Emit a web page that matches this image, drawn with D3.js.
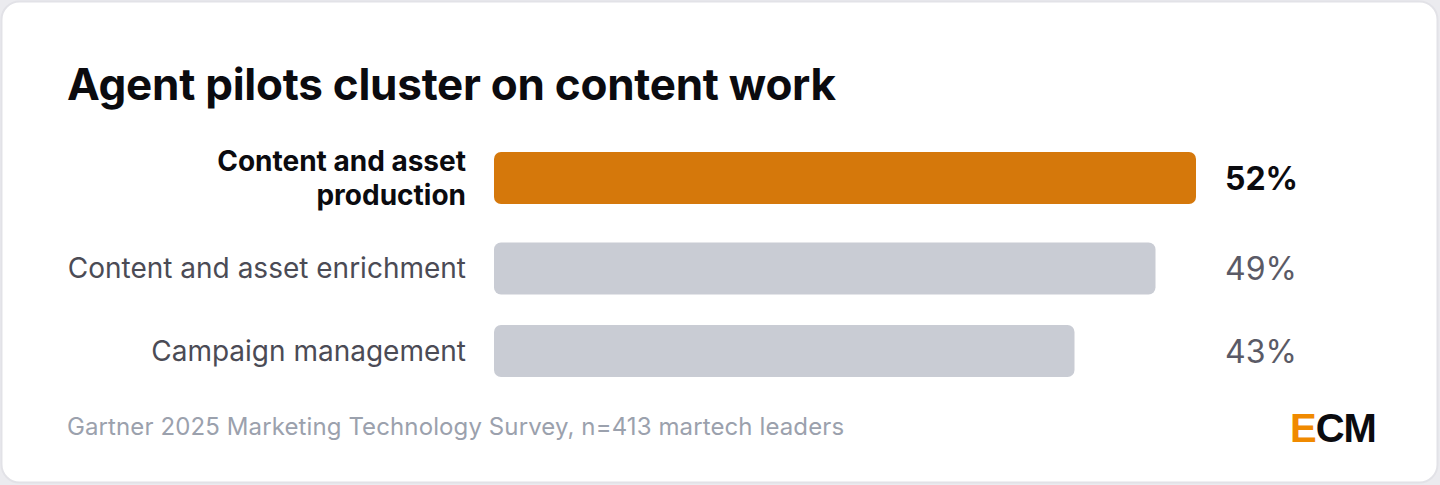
<!DOCTYPE html>
<html>
<head>
<meta charset="utf-8">
<script src="https://cdn.jsdelivr.net/npm/d3@7"></script>
<style>
  html, body { margin: 0; padding: 0; background: #ebebef; }
  body { width: 1440px; height: 485px; overflow: hidden; }
  svg { display: block; }
</style>
</head>
<body>
<svg id="chart" width="1440" height="485"></svg>
<script>
const categories = [["Content and asset", "production"], ["Content and asset enrichment"], ["Campaign management"]];
const values = [52, 49, 43];
const highlight = [true, false, false];
const title = "Agent pilots cluster on content work";
const source = "Gartner 2025 Marketing Technology Survey, n=413 martech leaders";

const svg = d3.select("#chart");
const font = "Inter, 'Noto Sans', sans-serif";

svg.append("rect")
  .attr("x", 1.5).attr("y", 1.5).attr("width", 1436).attr("height", 481)
  .attr("rx", 18).attr("fill", "#ffffff").attr("stroke", "#e2e2e7").attr("stroke-width", 2);

svg.append("text").attr("x", 67).attr("y", 100)
  .attr("font-family", font).attr("font-weight", 700).attr("font-size", 44)
  .attr("letter-spacing", -0.26)
  .attr("fill", "#0b0b0f").text(title);

const x = d3.scaleLinear().domain([0, d3.max(values)]).range([494, 1196]);
const centers = [178, 268.5, 351];
const y = d3.scaleOrdinal().domain(d3.range(values.length)).range(centers);
const barH = 52;

const rows = svg.append("g").selectAll("g").data(values).join("g");

rows.append("rect")
  .attr("x", x(0))
  .attr("y", (d, i) => y(i) - barH / 2)
  .attr("width", d => x(d) - x(0))
  .attr("height", barH)
  .attr("rx", 7)
  .attr("fill", (d, i) => highlight[i] ? "#d5780b" : "#c9ccd4");

rows.append("text")
  .attr("x", 466)
  .attr("text-anchor", "end")
  .attr("font-family", font)
  .attr("font-size", 28)
  .attr("font-weight", (d, i) => highlight[i] ? 700 : 400)
  .attr("fill", (d, i) => highlight[i] ? "#0b0b0f" : "#4b4b55")
  .each(function(d, i) {
    const lines = categories[i];
    const lh = 34;
    const t = d3.select(this);
    lines.forEach((l, j) => {
      t.append("tspan").attr("x", 466)
        .attr("y", y(i) + 9.5 + (j - (lines.length - 1) / 2) * lh)
        .text(l);
    });
  });

rows.append("text")
  .attr("x", 1225)
  .attr("y", (d, i) => y(i) + 11.5)
  .attr("font-family", font)
  .attr("font-size", 32)
  .attr("font-weight", (d, i) => highlight[i] ? 700 : 400)
  .attr("fill", (d, i) => highlight[i] ? "#0b0b0f" : "#5a5a66")
  .text(d => d + "%");

svg.append("text").attr("x", 67).attr("y", 435)
  .attr("font-family", font).attr("font-size", 24).attr("letter-spacing", 0.11).attr("fill", "#9ba1ad")
  .text(source);

const logo = svg.append("text").attr("x", 1290).attr("y", 442)
  .attr("font-family", "'Liberation Sans', Arial, sans-serif").attr("font-weight", 700)
  .attr("font-size", 40).attr("letter-spacing", -1);
logo.append("tspan").attr("fill", "#f08a00").text("E");
logo.append("tspan").attr("fill", "#0b0b0f").text("CM");
</script>
</body>
</html>
